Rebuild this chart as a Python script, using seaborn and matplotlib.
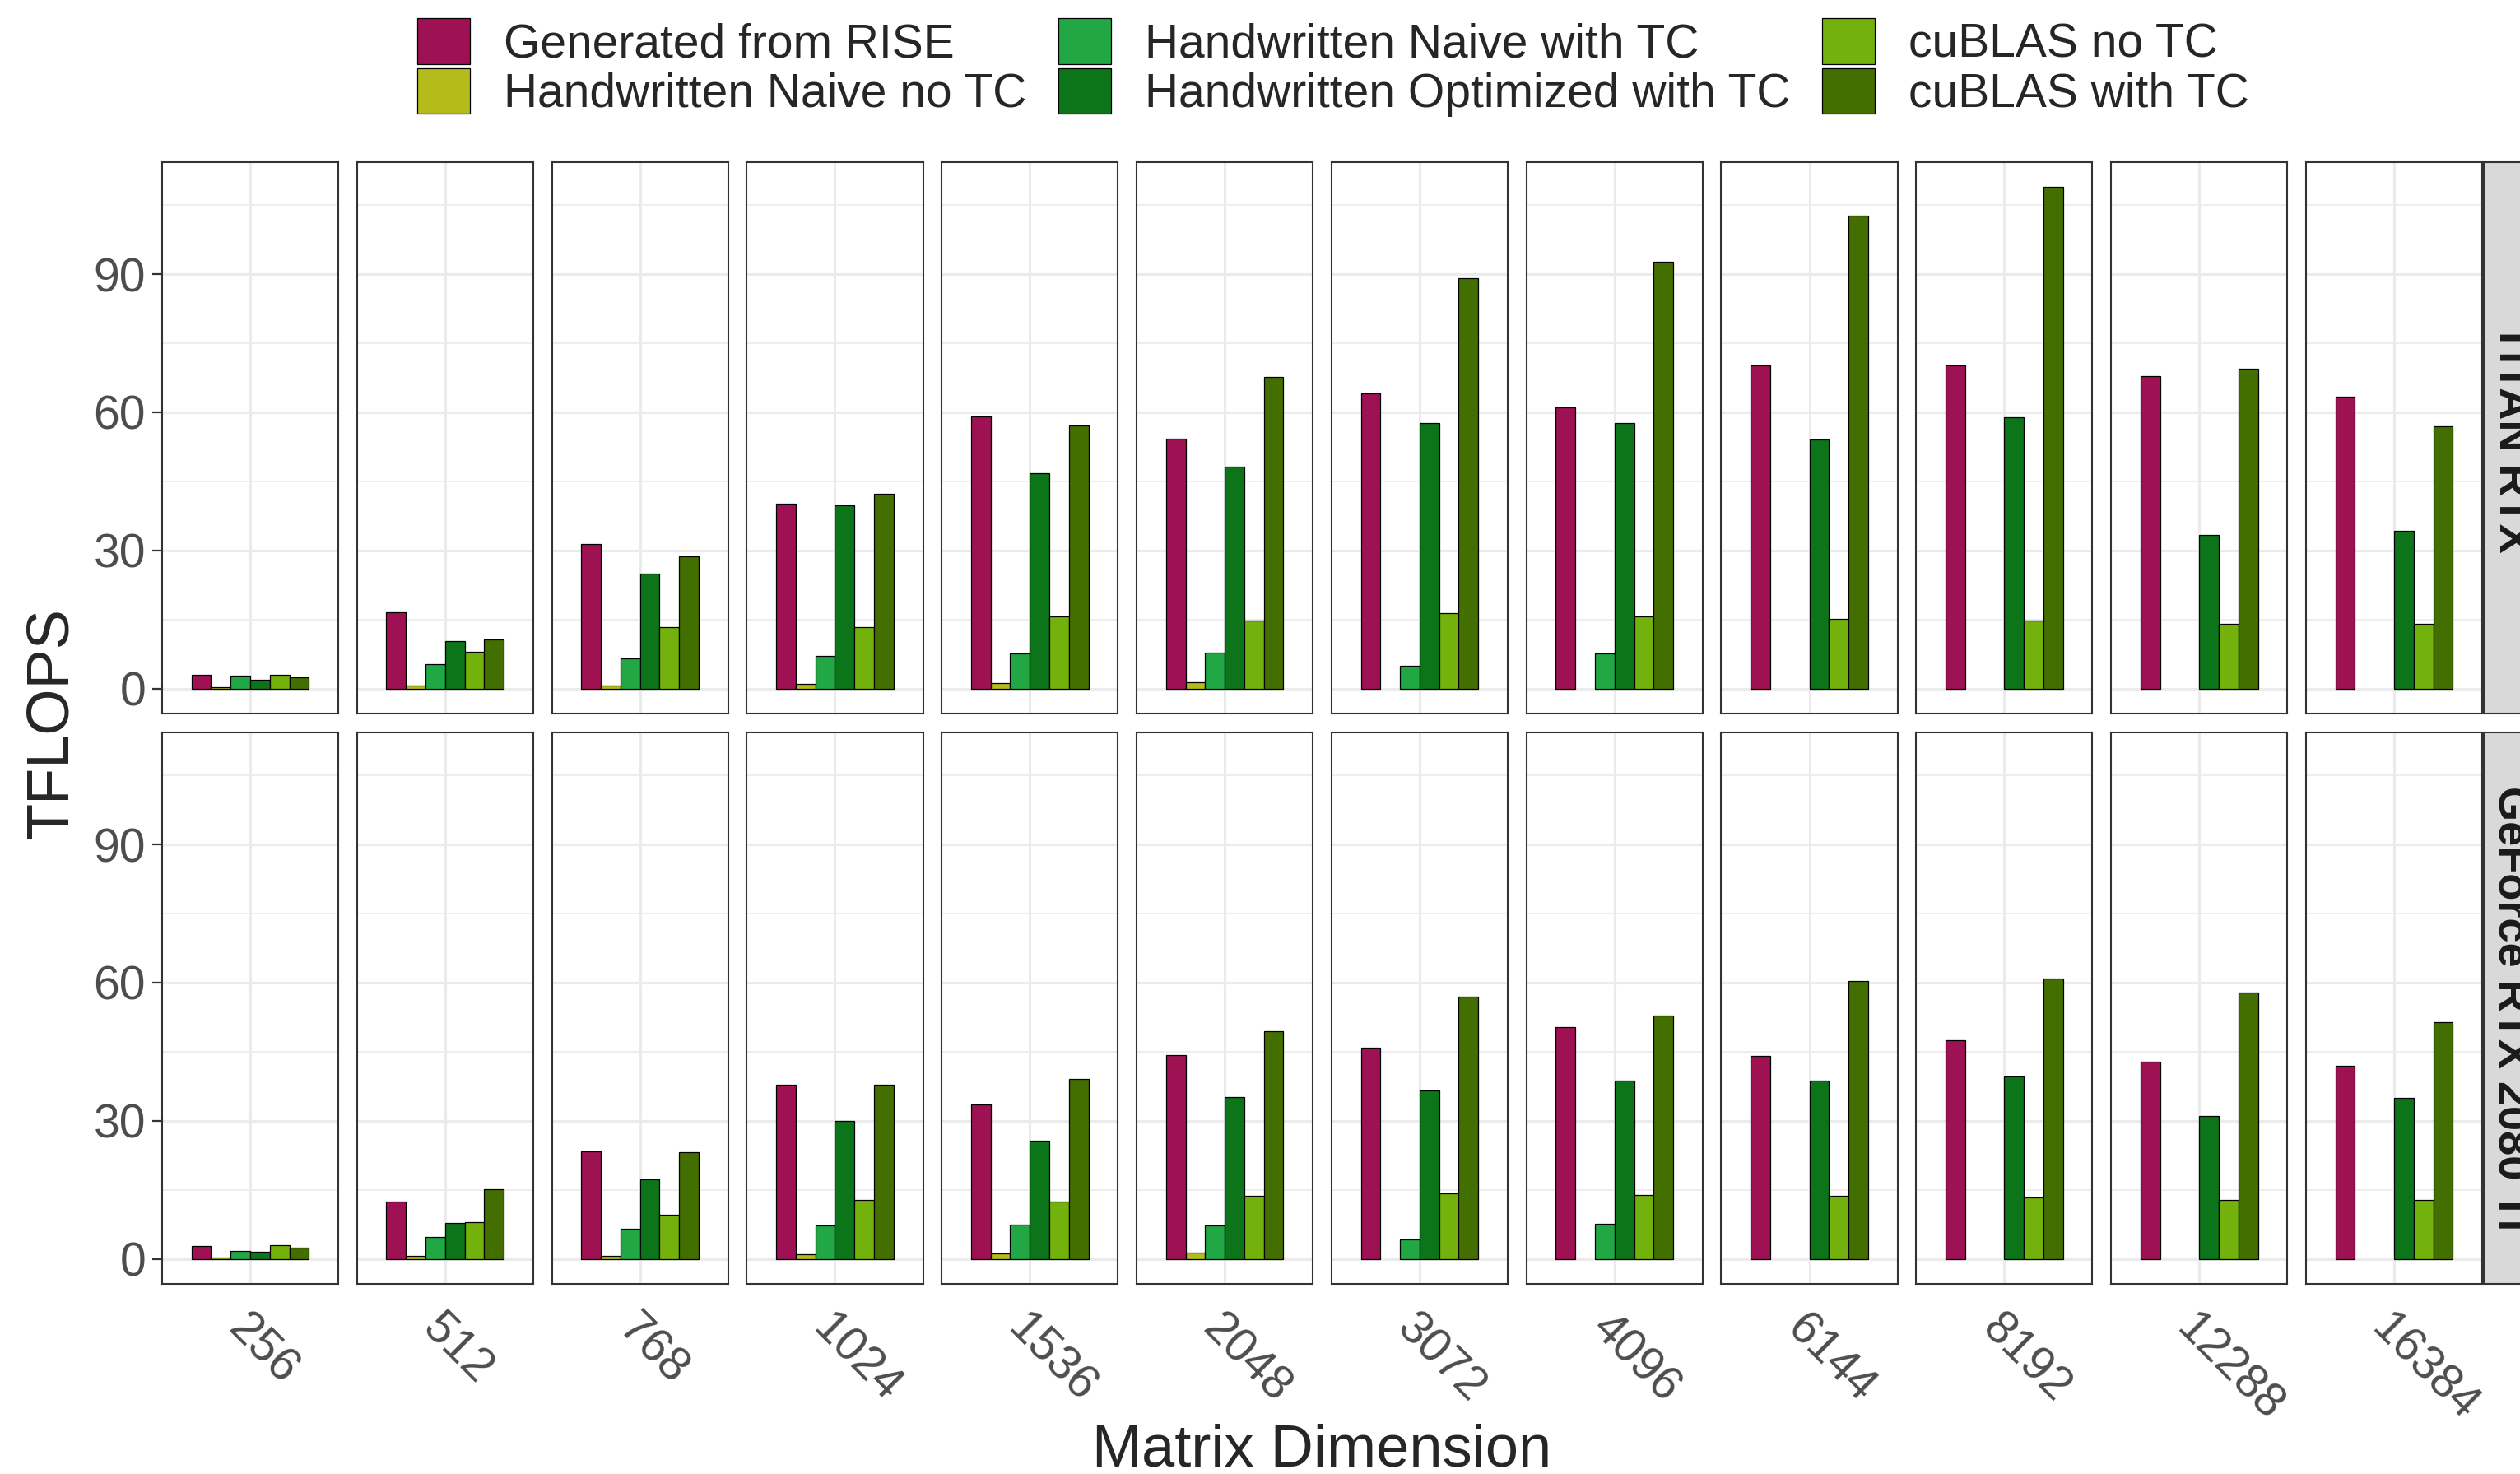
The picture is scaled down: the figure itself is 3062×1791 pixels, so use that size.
import numpy as np
import pandas as pd
import matplotlib
matplotlib.use("Agg")
import matplotlib.pyplot as plt
from matplotlib.patches import Patch, Rectangle
from matplotlib.ticker import MultipleLocator
import seaborn as sns

# dati (TFLOPS), NaN = barra assente
dims = ["256", "512", "768", "1024", "1536", "2048", "3072", "4096", "6144", "8192", "12288", "16384"]
gpus = ["TITAN RTX", "GeForce RTX 2080 Ti"]
impls = ["Generated from RISE", "Handwritten Naive no TC", "Handwritten Naive with TC",
         "Handwritten Optimized with TC", "cuBLAS no TC", "cuBLAS with TC"]
colors = ["#9E1254", "#B4BB1A", "#22A745", "#0C7419", "#73B20C", "#436E00"]

nan = np.nan
titan_rise = [2.9, 16.6, 31.4, 40.2, 59.1, 54.2, 64.1, 61.1, 70.2, 70.2, 67.8, 63.4]
titan_naive_notc = [0.3, 0.6, 0.6, 1.0, 1.2, 1.4, nan, nan, nan, nan, nan, nan]
titan_naive_tc = [2.7, 5.3, 6.5, 7.1, 7.6, 7.8, 4.9, 7.6, nan, nan, nan, nan]
titan_opt_tc = [1.9, 10.3, 24.9, 39.8, 46.7, 48.2, 57.6, 57.6, 54.1, 58.9, 33.4, 34.2]
titan_cublas_notc = [2.9, 8.0, 13.3, 13.4, 15.6, 14.8, 16.4, 15.6, 15.2, 14.8, 14.0, 14.0]
titan_cublas_tc = [2.5, 10.6, 28.7, 42.3, 57.2, 67.6, 89.1, 92.7, 102.7, 108.9, 69.5, 56.9]

ti_rise = [2.7, 12.5, 23.4, 37.9, 33.5, 44.3, 45.9, 50.4, 44.0, 47.5, 42.8, 42.0]
ti_naive_notc = [0.2, 0.7, 0.7, 1.0, 1.2, 1.3, nan, nan, nan, nan, nan, nan]
ti_naive_tc = [1.7, 4.8, 6.6, 7.2, 7.5, 7.3, 4.2, 7.6, nan, nan, nan, nan]
ti_opt_tc = [1.6, 7.8, 17.3, 29.9, 25.6, 35.1, 36.6, 38.7, 38.7, 39.6, 31.0, 34.9]
ti_cublas_notc = [2.9, 8.0, 9.5, 12.8, 12.5, 13.7, 14.2, 13.8, 13.6, 13.4, 12.8, 12.8]
ti_cublas_tc = [2.4, 15.1, 23.1, 37.9, 39.0, 49.4, 56.9, 52.8, 60.4, 60.9, 57.9, 51.4]

series = {
    "TITAN RTX": [titan_rise, titan_naive_notc, titan_naive_tc, titan_opt_tc, titan_cublas_notc, titan_cublas_tc],
    "GeForce RTX 2080 Ti": [ti_rise, ti_naive_notc, ti_naive_tc, ti_opt_tc, ti_cublas_notc, ti_cublas_tc],
}


# costruire il dataframe in formato lungo
def build_df():
    rows = []
    for gpu in gpus:
        for impl, vals in zip(impls, series[gpu]):
            for d, v in zip(dims, vals):
                rows.append({"gpu": gpu, "dim": d, "impl": impl, "tflops": v})
    return pd.DataFrame(rows).dropna()


def main():
    df = build_df()
    sns.set_style("white")
    plt.rcParams["font.family"] = ["Liberation Sans", "DejaVu Sans"]

    W, H = 3062, 1791
    fig, axes = plt.subplots(2, 12, figsize=(W / 200, H / 200), dpi=200, sharey=True)
    fig.subplots_adjust(left=197 / W, right=3016 / W, top=1 - 197 / H, bottom=1 - 1560 / H,
                        wspace=0.1056, hspace=0.0343)

    ymax = df["tflops"].max()
    ylim = (-0.05 * ymax, 1.05 * ymax)
    palette = dict(zip(impls, colors))

    for r, gpu in enumerate(gpus):
        for c, d in enumerate(dims):
            ax = axes[r, c]
            sub = df[(df["gpu"] == gpu) & (df["dim"] == d)]
            sns.barplot(data=sub, x="dim", y="tflops", hue="impl", hue_order=impls,
                        palette=palette, saturation=1, edgecolor="black", linewidth=0.45,
                        width=0.8, legend=False, ax=ax)
            ax.set_xlim(-0.6, 0.6)
            ax.set_ylim(*ylim)
            ax.yaxis.set_major_locator(MultipleLocator(30))
            ax.yaxis.set_minor_locator(MultipleLocator(15))
            ax.set_axisbelow(True)
            ax.grid(True, which="major", color="#EBEBEB", lw=1.1)
            ax.grid(True, which="minor", axis="y", color="#EBEBEB", lw=0.6)
            for s in ax.spines.values():
                s.set_color("#333333")
                s.set_linewidth(0.75)
            ax.set_xlabel("")
            ax.set_ylabel("")
            ax.tick_params(which="minor", length=0)
            ax.tick_params(axis="y", which="major", length=4.3 if c == 0 else 0, width=0.8,
                           color="#333333", pad=2.9, labelsize=20.5, labelcolor="#4D4D4D",
                           left=(c == 0), labelleft=(c == 0))
            if r == 1:
                ax.tick_params(axis="x", length=4.3, width=0.8, color="#333333", pad=5.5)
                ax.set_xticks([0])
                ax.set_xticklabels([d], rotation=-45, ha="left", va="top",
                                   rotation_mode="anchor", fontsize=20.5, color="#4D4D4D")
            else:
                ax.tick_params(axis="x", length=0, labelbottom=False)

        # strip a destra (tagliata dal bordo della figura come nell'originale)
        pos = axes[r, -1].get_position()
        fig.patches.append(Rectangle((3018 / W, pos.y0), 100 / W, pos.height,
                                     transform=fig.transFigure, facecolor="#D9D9D9",
                                     edgecolor="#333333", lw=0.75, zorder=0))
        fig.text(3026 / W, (pos.y0 + pos.y1) / 2, gpu, rotation=-90, ha="left", va="center",
                 fontsize=19.5, fontweight="bold", color="#1A1A1A")

    fig.text(63 / W, 1 - 878 / H, "TFLOPS", rotation=90, ha="center", va="center", fontsize=26)
    fig.text(1606 / W, 1 - 1781 / H, "Matrix Dimension", ha="center", va="baseline", fontsize=26)

    handles = [Patch(facecolor=col, edgecolor="black", lw=0.45) for col in colors]
    fig.legend(handles, impls, loc="upper center", bbox_to_anchor=(0.529, 1 + 6 / H), ncol=3,
               frameon=False, fontsize=20.5, handlelength=1.12, handleheight=1.12,
               labelspacing=0.02, columnspacing=0.68, handletextpad=0.72, borderpad=0)

    fig.savefig("out.png", dpi=200)


main()
